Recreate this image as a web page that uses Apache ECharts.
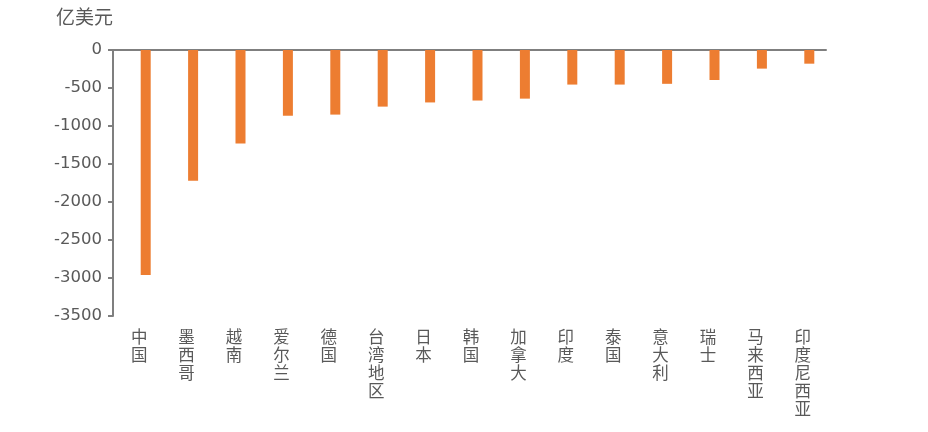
<!DOCTYPE html>
<html>
<head>
<meta charset="utf-8">
<script src="https://cdn.jsdelivr.net/npm/echarts@6/dist/echarts.min.js"></script>
<style>html,body{margin:0;padding:0;background:#fff}#c{width:928px;height:432px}</style>
</head>
<body>
<div id="c"></div>
<script>
const categories = ['中国','墨西哥','越南','爱尔兰','德国','台湾地区','日本','韩国','加拿大','印度','泰国','意大利','瑞士','马来西亚','印度尼西亚'];
const values = [-2960,-1720,-1230,-865,-850,-745,-690,-665,-640,-455,-455,-445,-395,-245,-180];
const unitLabel = '亿美元';

const FONT = '"Noto Sans CJK SC", "Noto Sans", sans-serif';
const NUMFONT = '"DejaVu Sans", sans-serif';
const GRAY = '#7f7f7f';
const TEXT = '#595959';
const chart = echarts.init(document.getElementById('c'));
chart.setOption({
  animation: false,
  title: { text: unitLabel, left: 51, top: 2, textStyle: { fontSize: 19, fontWeight: 'normal', color: TEXT, fontFamily: FONT } },
  grid: [
    { left: 122, right: 95, top: 50, bottom: 116 },
    { left: 113, right: 102, top: 50, bottom: 116 }
  ],
  xAxis: [
    {
      type: 'category', data: categories, gridIndex: 0,
      axisLine: { show: false }, axisTick: { show: false },
      axisLabel: {
        interval: 0, margin: 12, fontSize: 16.5, lineHeight: 18, color: TEXT, fontFamily: FONT,
        verticalAlign: 'top', padding: [0, 13, 0, 0],
        formatter: v => v.split('').join('\n')
      }
    },
    {
      type: 'value', gridIndex: 1, position: 'top', min: 0, max: 1,
      axisLine: { show: true, lineStyle: { color: GRAY, width: 2 } },
      axisTick: { show: false }, axisLabel: { show: false }, splitLine: { show: false }
    }
  ],
  yAxis: [
    {
      type: 'value', gridIndex: 0, min: -3500, max: 0, interval: 500, offset: 9,
      axisLine: { show: true, lineStyle: { color: GRAY, width: 2 } },
      axisTick: { show: true, length: 5, lineStyle: { color: GRAY, width: 2 } },
      axisLabel: { fontSize: 16.5, color: TEXT, fontFamily: NUMFONT, margin: 11, formatter: v => String(v) },
      splitLine: { show: false }
    },
    { type: 'value', gridIndex: 1, min: -3500, max: 0, show: false }
  ],
  series: [{
    type: 'bar', data: values, xAxisIndex: 0, yAxisIndex: 0,
    barWidth: 10, itemStyle: { color: '#ED7D31' }
  }]
});
</script>
</body>
</html>
